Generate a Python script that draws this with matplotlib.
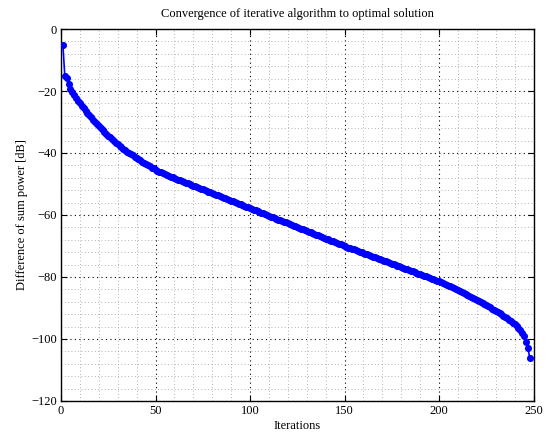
import matplotlib
matplotlib.use("Agg")
import matplotlib.pyplot as plt
import numpy as np
from matplotlib.ticker import MultipleLocator

# difference of sum power [dB] per iteration
diff_db = [
    -5.0, -15.0, -15.8, -17.6, -19.2, -20.4, -21.4, -22.3, -23.1, -23.9,
    -24.7, -25.5, -26.3, -27.0, -27.8, -28.5, -29.2, -29.9, -30.6, -31.3,
    -31.9, -32.6, -33.2, -33.8, -34.4, -35.0, -35.6, -36.1, -36.7, -37.2,
    -37.7, -38.2, -38.7, -39.1, -39.6, -40.0, -40.4, -40.8, -41.2, -41.6,
    -42.0, -42.4, -42.8, -43.2, -43.6, -44.0, -44.3, -44.7, -45.0, -45.4,
    -45.7, -46.0, -46.2, -46.5, -46.8, -47.0, -47.3, -47.6, -47.8, -48.1,
    -48.3, -48.6, -48.8, -49.1, -49.3, -49.6, -49.8, -50.0, -50.3, -50.5,
    -50.8, -51.0, -51.3, -51.5, -51.7, -52.0, -52.2, -52.5, -52.7, -52.9,
    -53.2, -53.4, -53.7, -53.9, -54.2, -54.4, -54.6, -54.9, -55.1, -55.4,
    -55.6, -55.8, -56.1, -56.3, -56.6, -56.8, -57.0, -57.3, -57.5, -57.8,
    -58.0, -58.3, -58.5, -58.8, -59.0, -59.3, -59.5, -59.7, -60.0, -60.2,
    -60.5, -60.7, -61.0, -61.2, -61.5, -61.7, -61.9, -62.2, -62.4, -62.7,
    -62.9, -63.2, -63.4, -63.7, -63.9, -64.1, -64.4, -64.6, -64.9, -65.1,
    -65.4, -65.6, -65.8, -66.1, -66.3, -66.6, -66.8, -67.1, -67.3, -67.6,
    -67.8, -68.0, -68.3, -68.5, -68.8, -69.0, -69.3, -69.5, -69.8, -70.0,
    -70.2, -70.5, -70.7, -70.9, -71.1, -71.4, -71.6, -71.8, -72.1, -72.3,
    -72.5, -72.7, -73.0, -73.2, -73.4, -73.6, -73.9, -74.1, -74.3, -74.6,
    -74.8, -75.0, -75.2, -75.5, -75.7, -75.9, -76.2, -76.4, -76.6, -76.8,
    -77.1, -77.3, -77.5, -77.7, -78.0, -78.2, -78.4, -78.7, -78.9, -79.1,
    -79.3, -79.6, -79.8, -80.0, -80.3, -80.5, -80.7, -80.9, -81.2, -81.4,
    -81.7, -81.9, -82.2, -82.5, -82.8, -83.0, -83.3, -83.6, -83.9, -84.2,
    -84.5, -84.8, -85.1, -85.4, -85.7, -86.0, -86.3, -86.7, -87.0, -87.4,
    -87.7, -88.1, -88.4, -88.8, -89.1, -89.5, -89.8, -90.2, -90.6, -90.9,
    -91.3, -91.7, -92.1, -92.5, -92.9, -93.3, -93.8, -94.2, -94.7, -95.2,
    -95.8, -96.4, -97.1, -98.0, -99.2, -101.0, -103.0, -106.2,
]
iterations = np.arange(1, len(diff_db) + 1)

plt.rcParams['font.family'] = ['Liberation Serif', 'DejaVu Serif']
plt.rcParams['font.size'] = 9

fig = plt.figure(figsize=(5.47, 4.33), dpi=100)
ax = fig.add_axes([0.1115, 0.074, 0.864, 0.859])

# thin connecting line + dots (scatter keeps sub-pixel positions, smoother band)
ax.plot(iterations, diff_db, '-', color='blue', linewidth=1.2)
ax.scatter(iterations, diff_db, s=26, color='blue', linewidths=0, zorder=3)

ax.set_xlim(0, 250)
ax.set_ylim(-120, 0)
ax.xaxis.set_major_locator(MultipleLocator(50))
ax.xaxis.set_minor_locator(MultipleLocator(10))
ax.yaxis.set_major_locator(MultipleLocator(20))
ax.yaxis.set_minor_locator(MultipleLocator(4))

ax.grid(which='major', linestyle=(0, (1, 3)), color='black', linewidth=0.8)
ax.grid(which='minor', linestyle=(0, (1, 3)), color='#999999', linewidth=0.6)
ax.set_axisbelow(True)

ax.tick_params(which='both', direction='in', top=True, right=True)
ax.tick_params(which='major', length=4, width=0.8, pad=3)
ax.tick_params(which='minor', length=0)
for s in ax.spines.values():
    s.set_linewidth(1.0)

ax.set_title('Convergence of iterative algorithm to optimal solution', fontsize=9, pad=9)
ax.set_xlabel('Iterations', fontsize=9, labelpad=2)
ax.set_ylabel('Difference of sum power [dB]', fontsize=9, labelpad=2)

fig.savefig('out.png', dpi=100)
